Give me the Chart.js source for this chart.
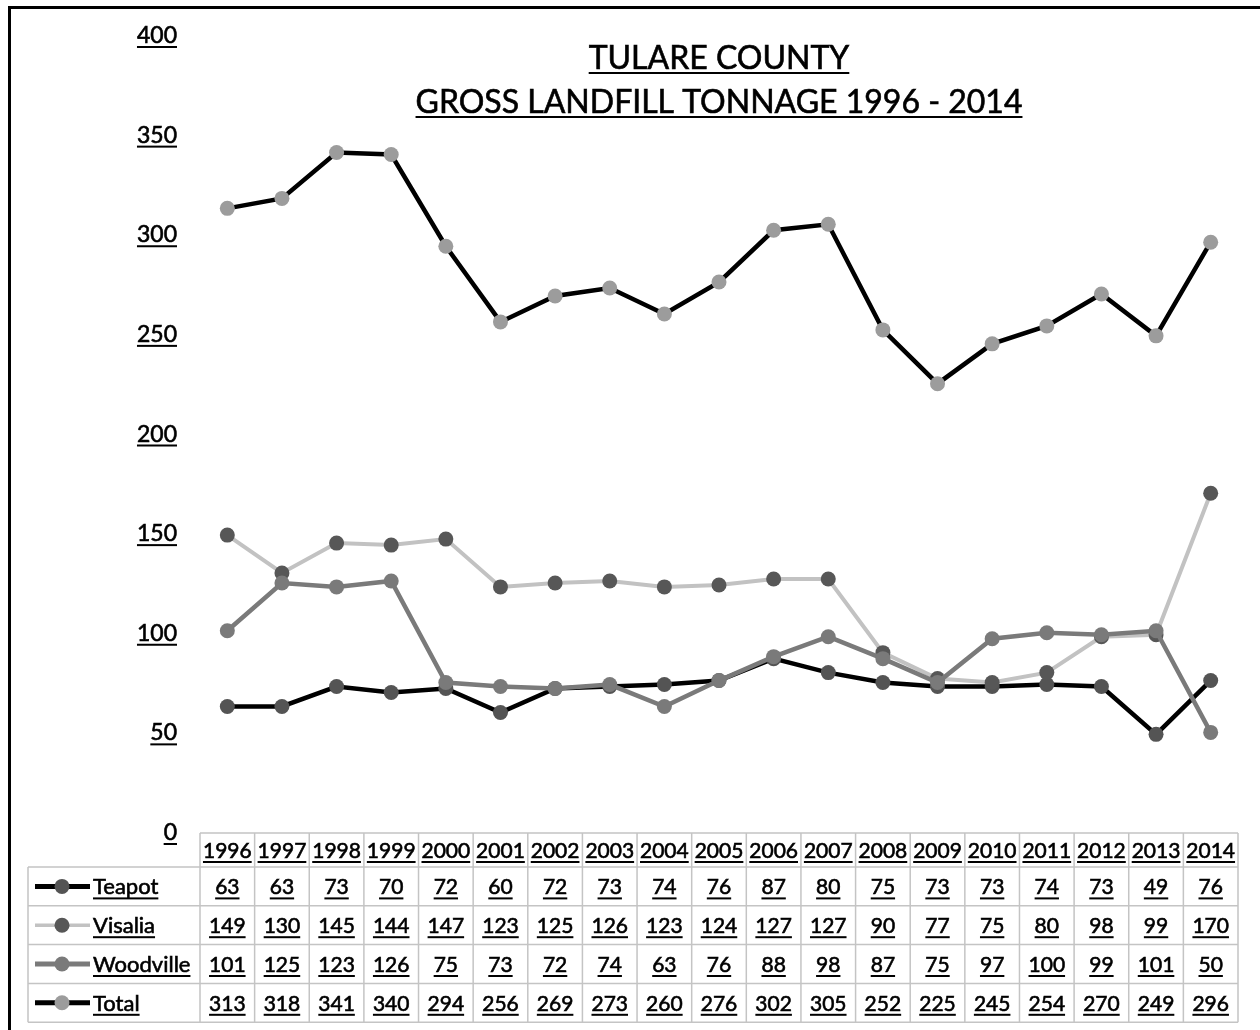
<!DOCTYPE html>
<html>
<head>
<meta charset="utf-8">
<script src="https://cdn.jsdelivr.net/npm/chart.js@4/dist/chart.umd.min.js"></script>
<style>
  html, body { margin: 0; padding: 0; background: #ffffff; }
  #wrap { width: 1260px; height: 1030px; position: relative; }
</style>
</head>
<body>
<div id="wrap"><canvas id="c" width="1260" height="1030"></canvas></div>
<script>
// Gross landfill tonnage (thousands of tons) per site, 1996-2014
const years     = ['1996','1997','1998','1999','2000','2001','2002','2003','2004','2005','2006','2007','2008','2009','2010','2011','2012','2013','2014'];
const teapot    = [63, 63, 73, 70, 72, 60, 72, 73, 74, 76, 87, 80, 75, 73, 73, 74, 73, 49, 76];
const visalia   = [149, 130, 145, 144, 147, 123, 125, 126, 123, 124, 127, 127, 90, 77, 75, 80, 98, 99, 170];
const woodville = [101, 125, 123, 126, 75, 73, 72, 74, 63, 76, 88, 98, 87, 75, 97, 100, 99, 101, 50];
const total     = [313, 318, 341, 340, 294, 256, 269, 273, 260, 276, 302, 305, 252, 225, 245, 254, 270, 249, 296];
const seriesNames = ['Teapot', 'Visalia', 'Woodville', 'Total'];
const titleLines  = ['TULARE COUNTY', 'GROSS LANDFILL TONNAGE 1996 - 2014'];

const FONT = 'Lato, "Open Sans", "DejaVu Sans", sans-serif';

// line colour, marker colour, line width per series
const styles = [
  { line: '#000000', point: '#545454', width: 4.5 },
  { line: '#c2c2c2', point: '#575757', width: 4 },
  { line: '#7a7a7a', point: '#7a7a7a', width: 4.5 },
  { line: '#000000', point: '#9c9c9c', width: 4.5 }
];
const seriesData = [teapot, visalia, woodville, total];

// text with a light outline for a slightly heavier stroke, plus underline
function underlined(ctx, text, x, y, align, font) {
  ctx.font = font;
  ctx.fillStyle = '#000';
  ctx.strokeStyle = '#000';
  ctx.lineWidth = 0.6;
  ctx.textAlign = align;
  ctx.textBaseline = 'alphabetic';
  ctx.fillText(text, x, y);
  ctx.strokeText(text, x, y);
  const w = ctx.measureText(text).width;
  const x0 = align === 'center' ? x - w / 2 : (align === 'right' ? x - w : x);
  ctx.fillRect(x0, y + 3, w, 2);
}

const decorations = {
  id: 'decorations',
  beforeDraw(chart) {
    const ctx = chart.ctx;
    ctx.save();
    ctx.fillStyle = '#fff';
    ctx.fillRect(0, 0, chart.width, chart.height);
    ctx.restore();
  },
  afterDraw(chart) {
    const ctx = chart.ctx;
    const area = chart.chartArea;
    const xs = chart.scales.x;
    const ys = chart.scales.y;
    ctx.save();

    // outer frame
    ctx.strokeStyle = '#000';
    ctx.lineWidth = 3;
    ctx.beginPath();
    ctx.moveTo(9.5, chart.height + 5);
    ctx.lineTo(9.5, 7.5);
    ctx.lineTo(chart.width + 5, 7.5);
    ctx.stroke();

    // title
    const cx = (area.left + area.right) / 2;
    underlined(ctx, titleLines[0], cx, 69, 'center', '32px ' + FONT);
    underlined(ctx, titleLines[1], cx, 113, 'center', '32px ' + FONT);

    // value axis labels
    ys.ticks.forEach(t => {
      const py = ys.getPixelForValue(t.value);
      underlined(ctx, String(t.value), area.left - 23, py + 8, 'right', '23px ' + FONT);
    });

    // data table
    const n = years.length;
    const colW = (area.right - area.left) / n;
    const headTop = area.bottom + 1;
    const headBot = headTop + 34;
    const rowH = 38.8;
    const tableLeft = 28;
    const tableBot = headBot + rowH * seriesNames.length;

    ctx.strokeStyle = '#c4c4c4';
    ctx.lineWidth = 1.5;
    ctx.beginPath();
    ctx.moveTo(area.left, headTop); ctx.lineTo(area.right, headTop);
    for (let r = 0; r <= seriesNames.length; r++) {
      const y = headBot + r * rowH;
      ctx.moveTo(tableLeft, y); ctx.lineTo(area.right, y);
    }
    ctx.moveTo(tableLeft, headBot); ctx.lineTo(tableLeft, tableBot);
    for (let i = 0; i <= n; i++) {
      const x = i < n ? xs.getPixelForValue(i) - colW / 2 : xs.getPixelForValue(n - 1) + colW / 2;
      ctx.moveTo(x, headTop); ctx.lineTo(x, tableBot);
    }
    ctx.stroke();

    const cellFont = '21px ' + FONT;
    years.forEach((yr, i) => {
      underlined(ctx, yr, xs.getPixelForValue(i), (headTop + headBot) / 2 + 8, 'center', cellFont);
    });

    seriesNames.forEach((name, r) => {
      const cy = headBot + rowH * r + rowH / 2;
      const st = styles[r];
      // legend key
      ctx.strokeStyle = st.line;
      ctx.lineWidth = r === 1 ? 3.5 : 5;
      ctx.beginPath();
      ctx.moveTo(35, cy); ctx.lineTo(90, cy);
      ctx.stroke();
      ctx.fillStyle = st.point;
      ctx.beginPath();
      ctx.arc(62, cy, 7.5, 0, Math.PI * 2);
      ctx.fill();
      underlined(ctx, name, 93, cy + 8, 'left', '22px ' + FONT);
      seriesData[r].forEach((v, i) => {
        underlined(ctx, String(v), xs.getPixelForValue(i), cy + 8, 'center', cellFont);
      });
    });

    ctx.restore();
  }
};

const datasets = seriesNames.map((name, k) => ({
  label: name,
  data: seriesData[k],
  borderColor: styles[k].line,
  borderWidth: styles[k].width,
  backgroundColor: styles[k].point,
  pointBackgroundColor: styles[k].point,
  pointBorderColor: styles[k].point,
  pointBorderWidth: 0,
  pointRadius: 7.5,
  pointHoverRadius: 7.5,
  tension: 0,
  fill: false,
  order: seriesNames.length - k
}));

new Chart(document.getElementById('c'), {
  type: 'line',
  data: { labels: years, datasets },
  options: {
    responsive: false,
    animation: false,
    devicePixelRatio: 1,
    layout: { padding: { top: 35, bottom: 198, right: 22, left: 0 } },
    plugins: {
      legend: { display: false },
      title: { display: false },
      tooltip: { enabled: false }
    },
    scales: {
      x: {
        type: 'category',
        offset: true,
        display: false
      },
      y: {
        min: 0,
        max: 400,
        ticks: { stepSize: 50, display: false },
        grid: { display: false, drawTicks: false },
        border: { display: false },
        afterFit(scale) { scale.width = 200; }
      }
    }
  },
  plugins: [decorations]
});
</script>
</body>
</html>
